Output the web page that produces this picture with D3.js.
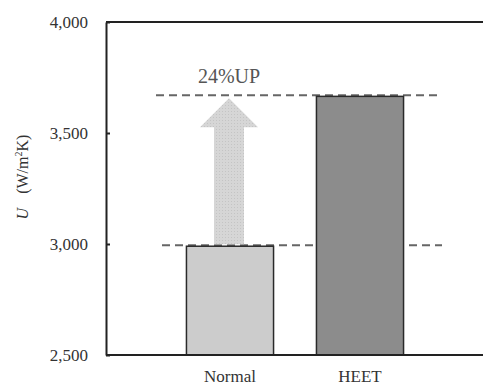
<!DOCTYPE html>
<html lang="en">
<head>
<meta charset="UTF-8">
<title>U value</title>
<style>
  body { margin: 0; background: #fff; }
  svg text { font-family: "Liberation Serif", "Times New Roman", serif; fill: #333; }
</style>
</head>
<body>
<svg id="chart" width="483" height="385"></svg>
<script src="https://cdnjs.cloudflare.com/ajax/libs/d3/7.8.5/d3.min.js"></script>
<script>
// data
var categories = ["Normal", "HEET"];
var values = [2990, 3665];
var yTicks = [2500, 3000, 3500, 4000];
var upLabel = "24%UP";

var svg = d3.select("#chart");

var plotLeft = 106, plotRight = 483, plotTop = 22, plotBottom = 355;

var y = d3.scaleLinear().domain([2500, 4000]).range([plotBottom, plotTop]);
var x = d3.scaleBand().domain(categories).range([165, 425])
    .paddingInner(0.33).paddingOuter(0.165);

// dashed reference lines at both bar heights
svg.append("line")
    .attr("x1", 156).attr("x2", 437)
    .attr("y1", y(values[1]) - 1).attr("y2", y(values[1]) - 1)
    .attr("stroke", "#666").attr("stroke-width", 2).attr("stroke-dasharray", "8,5");
svg.append("line")
    .attr("x1", 162).attr("x2", 442)
    .attr("y1", y(values[0]) - 1).attr("y2", y(values[0]) - 1)
    .attr("stroke", "#666").attr("stroke-width", 2).attr("stroke-dasharray", "8,5");

// dotted texture for the arrow
var pat = svg.append("defs").append("pattern")
    .attr("id", "dots").attr("width", 3).attr("height", 3)
    .attr("patternUnits", "userSpaceOnUse");
pat.append("rect").attr("width", 3).attr("height", 3).attr("fill", "#d6d6d6");
pat.append("rect").attr("width", 1).attr("height", 1).attr("fill", "#c4c4c4");

// up arrow from Normal level to HEET level
var cx = x("Normal") + x.bandwidth() / 2 - 1;
var tipY = y(values[1]) + 2, baseY = y(values[0]) - 2, headY = tipY + 29;
var arrow = d3.path();
arrow.moveTo(cx, tipY);
arrow.lineTo(cx + 29, headY);
arrow.lineTo(cx + 15, headY);
arrow.lineTo(cx + 15, baseY);
arrow.lineTo(cx - 15, baseY);
arrow.lineTo(cx - 15, headY);
arrow.lineTo(cx - 29, headY);
arrow.closePath();
svg.append("path").attr("d", arrow.toString()).attr("fill", "url(#dots)");

svg.append("text")
    .attr("x", cx).attr("y", 83)
    .attr("text-anchor", "middle")
    .style("font-size", "20px").style("fill", "#555")
    .text(upLabel);

// bars
var fills = ["#cccccc", "#8c8c8c"];
svg.selectAll("rect.bar")
    .data(values)
    .enter().append("rect")
    .attr("class", "bar")
    .attr("x", function(d, i) { return x(categories[i]); })
    .attr("y", function(d) { return y(d); })
    .attr("width", x.bandwidth())
    .attr("height", function(d) { return plotBottom - y(d); })
    .attr("fill", function(d, i) { return fills[i]; })
    .attr("stroke", "#2a2a2a").attr("stroke-width", 1.5);

// frame: left axis, top and bottom lines (no right border)
svg.append("line").attr("x1", plotLeft).attr("x2", plotRight).attr("y1", plotTop).attr("y2", plotTop)
    .attr("stroke", "#222").attr("stroke-width", 2);
svg.append("line").attr("x1", plotLeft).attr("x2", plotRight).attr("y1", plotBottom).attr("y2", plotBottom)
    .attr("stroke", "#222").attr("stroke-width", 2);

var yAxis = d3.axisLeft(y).tickValues(yTicks).tickFormat(d3.format(","))
    .tickSizeInner(-4).tickSizeOuter(0).tickPadding(18);
var ga = svg.append("g").attr("transform", "translate(" + plotLeft + ",0)").call(yAxis);
ga.select(".domain").attr("stroke", "#222").attr("stroke-width", 2);
ga.selectAll(".tick line").attr("stroke", "#222").attr("stroke-width", 2);
ga.selectAll(".tick text")
    .style("font-family", "Liberation Serif, serif")
    .style("font-size", "17px").attr("fill", "#333")
    .attr("dy", "0.32em");

// category labels
svg.selectAll("text.cat")
    .data(categories)
    .enter().append("text")
    .attr("class", "cat")
    .attr("x", function(d) { return x(d) + x.bandwidth() / 2; })
    .attr("y", 382)
    .attr("text-anchor", "middle")
    .style("font-size", "17px")
    .text(function(d) { return d; });

// y label
var yl = svg.append("text")
    .attr("transform", "translate(28,177) rotate(-90)")
    .attr("text-anchor", "middle")
    .style("font-size", "16px");
yl.append("tspan").style("font-style", "italic").text("U");
yl.append("tspan").attr("dx", 14).text("(W/m");
yl.append("tspan").attr("dy", -6).style("font-size", "10px").text("2");
yl.append("tspan").attr("dy", 6).text("K)");
</script>
</body>
</html>
